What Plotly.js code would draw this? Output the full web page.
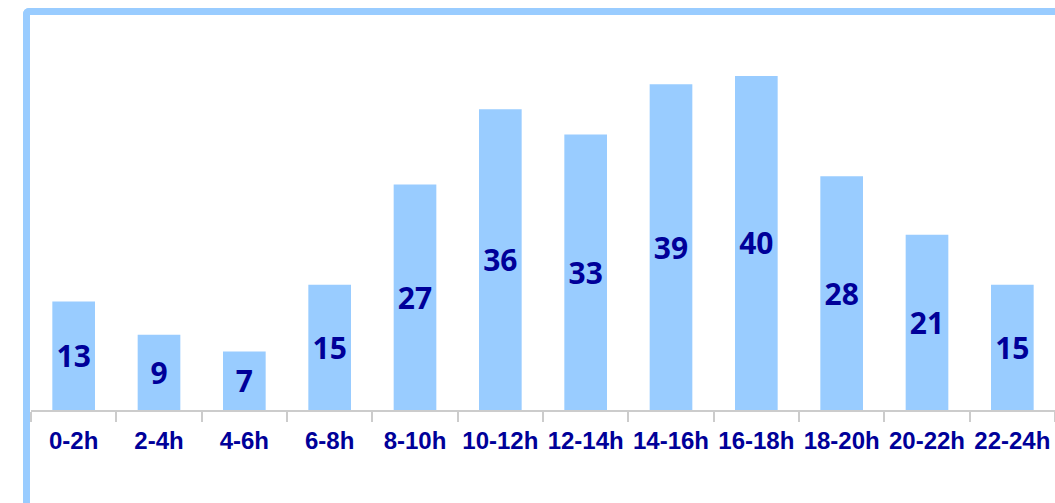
<!DOCTYPE html>
<html>
<head>
<meta charset="utf-8">
<script src="https://cdn.plot.ly/plotly-3.0.1.min.js"></script>
<style>
  html, body { margin: 0; padding: 0; background: #ffffff; overflow: hidden; }
  #frame { position: absolute; left: 23px; top: 8px; width: 1200px; height: 700px;
           border-left: 7px solid #99ccff; border-top: 7px solid #99ccff;
           border-top-left-radius: 6px; box-sizing: border-box; }
  #chart { position: absolute; left: 0; top: 0; width: 1055px; height: 503px; }
</style>
</head>
<body>
<div id="frame"></div>
<div id="chart"></div>
<script>
const categories = ["0-2h","2-4h","4-6h","6-8h","8-10h","10-12h","12-14h","14-16h","16-18h","18-20h","20-22h","22-24h"];
const values = [13, 9, 7, 15, 27, 36, 33, 39, 40, 28, 21, 15];

const trace = {
  type: 'bar',
  x: categories,
  y: values,
  text: values.map(String),
  textposition: 'inside',
  insidetextanchor: 'middle',
  constraintext: 'none',
  textangle: 0,
  textfont: { family: 'Noto Sans', size: 30, color: '#000099', weight: 'bold' },
  marker: { color: '#99ccff', line: { width: 0 } },
  width: 0.5,
  hoverinfo: 'none'
};

const layout = {
  width: 1055, height: 503,
  margin: { l: 31, r: 0, t: 20, b: 93 },
  paper_bgcolor: 'rgba(0,0,0,0)',
  plot_bgcolor: 'rgba(0,0,0,0)',
  showlegend: false,
  xaxis: {
    type: 'category',
    showline: true, linecolor: '#cccccc', linewidth: 2,
    ticks: 'outside', tickson: 'boundaries', ticklen: 10, tickcolor: '#cccccc', tickwidth: 2,
    tickangle: 0, automargin: false, ticklabelstandoff: 8,
    tickfont: { family: 'Arial', size: 24, color: '#000099', weight: 'bold' },
    showgrid: false, zeroline: false, fixedrange: true
  },
  yaxis: {
    range: [0, 46.7],
    visible: false, showgrid: false, zeroline: false, fixedrange: true
  }
};

Plotly.newPlot('chart', [trace], layout, { staticPlot: true, displayModeBar: false });
</script>
</body>
</html>
